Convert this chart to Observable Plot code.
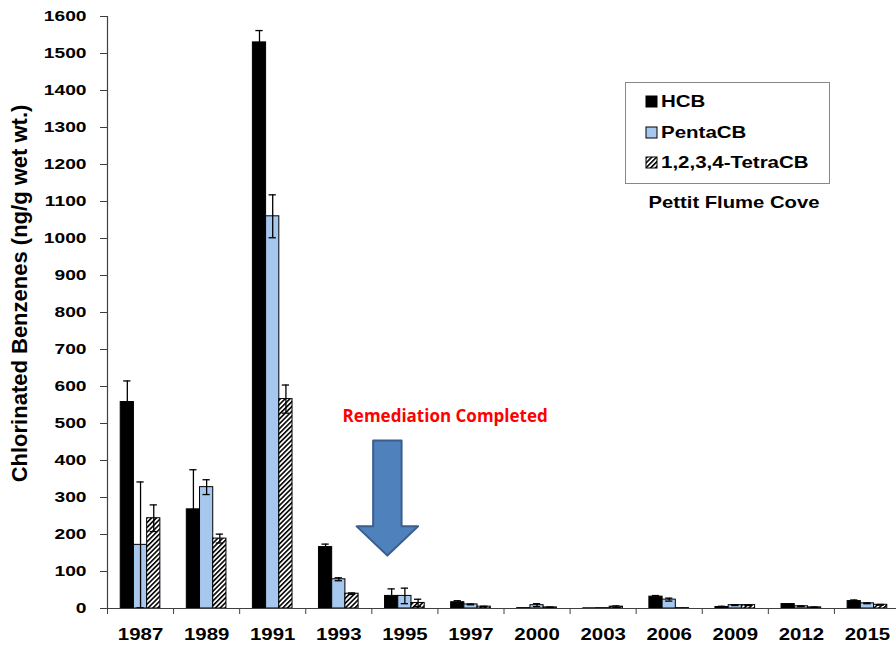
<!DOCTYPE html>
<html><head><meta charset="utf-8">
<script src="https://cdn.jsdelivr.net/npm/d3@7"></script>
<script src="https://cdn.jsdelivr.net/npm/@observablehq/plot@0.6"></script>
<style>
body{margin:0;background:#fff}
svg{display:block}
g[aria-label="y-axis tick label"], g[aria-label="x-axis tick label"]{font-weight:bold}
</style>
</head><body><div id="chart"></div>
<script>
// ---- data ----
const years = ["1987","1989","1991","1993","1995","1997","2000","2003","2006","2009","2012","2015"];
const series = ["HCB","PentaCB","1,2,3,4-TetraCB"];
const hcb      = [558, 268, 1530, 166, 34, 17, 1, 0.5, 32, 4, 12, 20];
const hcbErr   = [57, 107, 32, 8, 19, 4, 0, 0, 3, 2, 0, 3];
const penta    = [172, 328, 1060, 79, 34, 11, 9, 1, 24, 9, 6, 14];
const pentaErr = [170, 20, 58, 4, 21, 1, 4, 0, 4, 1, 1, 1];
const tetra    = [244, 189, 566, 40, 15, 5, 3, 5, 1, 9, 3, 10];
const tetraErr = [36, 12, 38, 2, 10, 1, 1, 2, 0, 1, 1, 1];
const yTicks = d3.range(0, 1601, 100);
const colors = ["#000000", "#a6c8ef", "url(#hatch)"];

// annotation anchors (data units)
const noteText = "Remediation Completed";
const noteAt = {x: 5.11, y: 519};
const arrowAt = {x: 4.235, top: 454, neck: 222, tip: 143, shaft: 0.215, head: 0.465};

// ---- build rows ----
const vals = [hcb, penta, tetra], errs = [hcbErr, pentaErr, tetraErr];
const rows = [];
years.forEach((year, i) => series.forEach((s, k) => rows.push({i, k, year, series: s, value: vals[k][i], err: errs[k][i]})));
const slot = 0.2, start = 0.2;
const left = d => d.i + start + slot * d.k;
const right = d => left(d) + slot;
const cx = d => left(d) + slot / 2;
const errRows = rows.filter(d => d.err > 0);
const caps = errRows.flatMap(d => [{...d, y: d.value + d.err}, {...d, y: Math.max(0, d.value - d.err)}]);

const a = arrowAt;
const arrow = [
  {x: a.x - a.shaft, y: a.top}, {x: a.x + a.shaft, y: a.top},
  {x: a.x + a.shaft, y: a.neck}, {x: a.x + a.head, y: a.neck},
  {x: a.x, y: a.tip},
  {x: a.x - a.head, y: a.neck}, {x: a.x - a.shaft, y: a.neck}
];

const barMarks = series.map((s, k) => Plot.rect(rows.filter(d => d.k === k), {
  x1: left, x2: right, y1: 0, y2: "value",
  fill: colors[k], stroke: "#000", strokeWidth: 1
}));

const svg = Plot.plot({
  width: 896, height: 645,
  marginLeft: 107, marginRight: -4, marginTop: 16, marginBottom: 37,
  style: {fontFamily: "'Liberation Sans', Arial, sans-serif", background: "#fff", color: "#000"},
  x: {type: "linear", domain: [0, 12]},
  y: {domain: [0, 1600]},
  marks: [
    ...barMarks,
    Plot.ruleX(errRows, {x: cx, y1: d => Math.max(0, d.value - d.err), y2: d => d.value + d.err, stroke: "#000", strokeWidth: 1.3}),
    Plot.ruleY(caps, {y: "y", x1: d => cx(d) - 0.055, x2: d => cx(d) + 0.055, stroke: "#000", strokeWidth: 1.3}),
    Plot.ruleY([0], {stroke: "#404040", strokeWidth: 1.2}),
    Plot.ruleX([0], {y1: 0, y2: 1600, stroke: "#404040", strokeWidth: 1.2}),
    Plot.axisY(yTicks, {tickSize: 7, tickPadding: 14, fontSize: 15, fontWeight: "bold", stroke: "#404040", label: null, tickFormat: d3.format("d")}),
    Plot.axisX(d3.range(0, 13), {tickSize: 6, tickFormat: () => "", stroke: "#404040", label: null}),
    Plot.axisX(d3.range(12).map(i => i + 0.5), {tickSize: 0, tickPadding: 19, tickFormat: d => years[Math.floor(d)], fontSize: 17, fontWeight: "bold", label: null}),
    Plot.line(arrow, {x: "x", y: "y", curve: "linear-closed", fill: "#4f81bd", stroke: "#3a5f8e", strokeWidth: 2}),
    Plot.text([noteText], {x: () => noteAt.x, y: () => noteAt.y, text: d => d, fill: "#ff0000", fontSize: 17, fontWeight: "bold", lineAnchor: "middle", fontFamily: "'Open Sans', sans-serif"}),
    Plot.text(["Chlorinated Benzenes (ng/g wet wt.)"], {frameAnchor: "left", textAnchor: "middle", text: d => d, rotate: -90, dx: -88, dy: -19, fontSize: 22, fontWeight: "bold", lineAnchor: "middle"})
  ]
});

// hatch pattern
const ns = "http://www.w3.org/2000/svg";
const defs = document.createElementNS(ns, "defs");
defs.innerHTML = `<pattern id="hatch" patternUnits="userSpaceOnUse" width="3.4" height="3.4" patternTransform="rotate(45)">
<rect width="3.4" height="3.4" fill="#fff"/><line x1="0.8" y1="0" x2="0.8" y2="3.4" stroke="#000" stroke-width="1.6"/></pattern>`;
svg.prepend(defs);

// legend (inside plot area)
const lg = document.createElementNS(ns, "g");
lg.setAttribute("font-family", "'Liberation Sans', Arial, sans-serif");
lg.setAttribute("font-weight", "bold");
lg.setAttribute("font-size", "16");
lg.setAttribute("text-anchor", "start");
let html = `<rect x="625.5" y="82.5" width="204" height="101" fill="#fff" stroke="#888" stroke-width="1"/>`;
const rowsY = [107, 138, 168];
series.forEach((s, k) => {
  const y = rowsY[k];
  html += `<rect x="646" y="${y - 11}" width="11" height="11" fill="${colors[k]}" stroke="#000" stroke-width="1"/>`;
  html += `<text class="lgtext" x="661" y="${y}" text-anchor="start">${s}</text>`;
});
html += `<text class="title" x="734" y="208" text-anchor="middle" font-size="17">Pettit Flume Cove</text>`;
lg.innerHTML = html;
svg.append(lg);

document.getElementById("chart").append(svg);

function stretch(el, k) {
  const L = el.getComputedTextLength();
  el.setAttribute("textLength", (L * k).toFixed(1));
  el.setAttribute("lengthAdjust", "spacingAndGlyphs");
}
svg.querySelectorAll('g[aria-label="y-axis tick label"] text').forEach(t => stretch(t, 1.28));
svg.querySelectorAll('g[aria-label="x-axis tick label"] text').forEach(t => { if (t.textContent) stretch(t, 1.2); });
svg.querySelectorAll('text.lgtext').forEach(t => stretch(t, 1.28));
svg.querySelectorAll('text.title').forEach(t => stretch(t, 1.19));
</script>
</body></html>
